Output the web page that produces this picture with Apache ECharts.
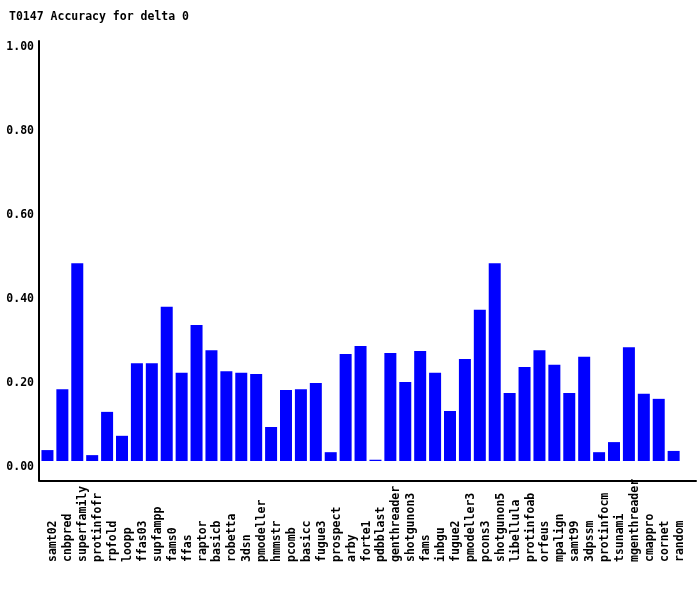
<!DOCTYPE html>
<html>
<head>
<meta charset="utf-8">
<script src="https://cdn.jsdelivr.net/npm/echarts@6/dist/echarts.min.js"></script>
<style>
html,body{margin:0;padding:0;background:#fff;}
#chart{width:700px;height:590px;}
</style>
</head>
<body>
<div id="chart"></div>
<script>
const titleText = 'T0147 Accuracy for delta 0';
const categories = ['samt02','cnbpred','superfamily','protinfofr','rpfold','loopp','ffas03','supfampp','fams0','ffas','raptor','basicb','robetta','3dsn','pmodeller','hmmstr','pcomb','basicc','fugue3','prospect','arby','forte1','pdbblast','genthreader','shotgunon3','fams','inbgu','fugue2','pmodeller3','pcons3','shotgunon5','libellula','protinfoab','orfeus','mpalign','samt99','3dpssm','protinfocm','tsunami','mgenthreader','cmappro','cornet','random'];
const accuracy = [0.026,0.171,0.471,0.014,0.117,0.060,0.233,0.233,0.367,0.210,0.324,0.264,0.214,0.210,0.207,0.081,0.169,0.171,0.186,0.021,0.255,0.274,0.003,0.257,0.188,0.262,0.210,0.119,0.243,0.360,0.471,0.162,0.224,0.264,0.229,0.162,0.248,0.021,0.045,0.271,0.160,0.148,0.024];
const yTicks = [0, 0.2, 0.4, 0.6, 0.8, 1.0];

const FONT = 'DejaVu Sans Mono';
const chart = echarts.init(document.getElementById('chart'), null, {renderer: 'canvas'});
chart.setOption({
  backgroundColor: '#ffffff',
  animation: false,
  title: {
    text: titleText,
    left: 9,
    top: 11,
    padding: 0,
    textStyle: {fontFamily: FONT, fontWeight: 'bold', fontSize: 11.5, color: '#000'}
  },
  grid: {left: 40, right: 4, top: 41, bottom: 109, containLabel: false, outerBoundsMode: 'none'},
  xAxis: {
    type: 'category',
    data: categories.concat(['']),
    boundaryGap: true,
    axisLine: {show: true, onZero: false, lineStyle: {color: '#000', width: 2}},
    axisTick: {show: false},
    splitLine: {show: false},
    axisLabel: {
      interval: 0,
      rotate: 90,
      align: 'left',
      verticalAlign: 'top',
      lineHeight: 12,
      margin: 81,
      fontFamily: FONT,
      fontWeight: 'bold',
      fontSize: 11.5,
      color: '#000',
      hideOverlap: false
    }
  },
  yAxis: {
    type: 'value',
    min: -0.0476,
    max: 1,
    offset: 1,
    axisLine: {show: true, lineStyle: {color: '#000', width: 2}},
    axisTick: {show: false},
    splitLine: {show: false},
    axisLabel: {
      customValues: yTicks,
      formatter: v => v.toFixed(2),
      margin: 5,
      verticalAlign: 'top',
      lineHeight: 13,
      fontFamily: FONT,
      fontWeight: 'bold',
      fontSize: 11.5,
      color: '#000'
    }
  },
  series: [{
    type: 'bar',
    data: accuracy,
    barWidth: 12,
    itemStyle: {color: '#0000ff'}
  }]
});
</script>
</body>
</html>
